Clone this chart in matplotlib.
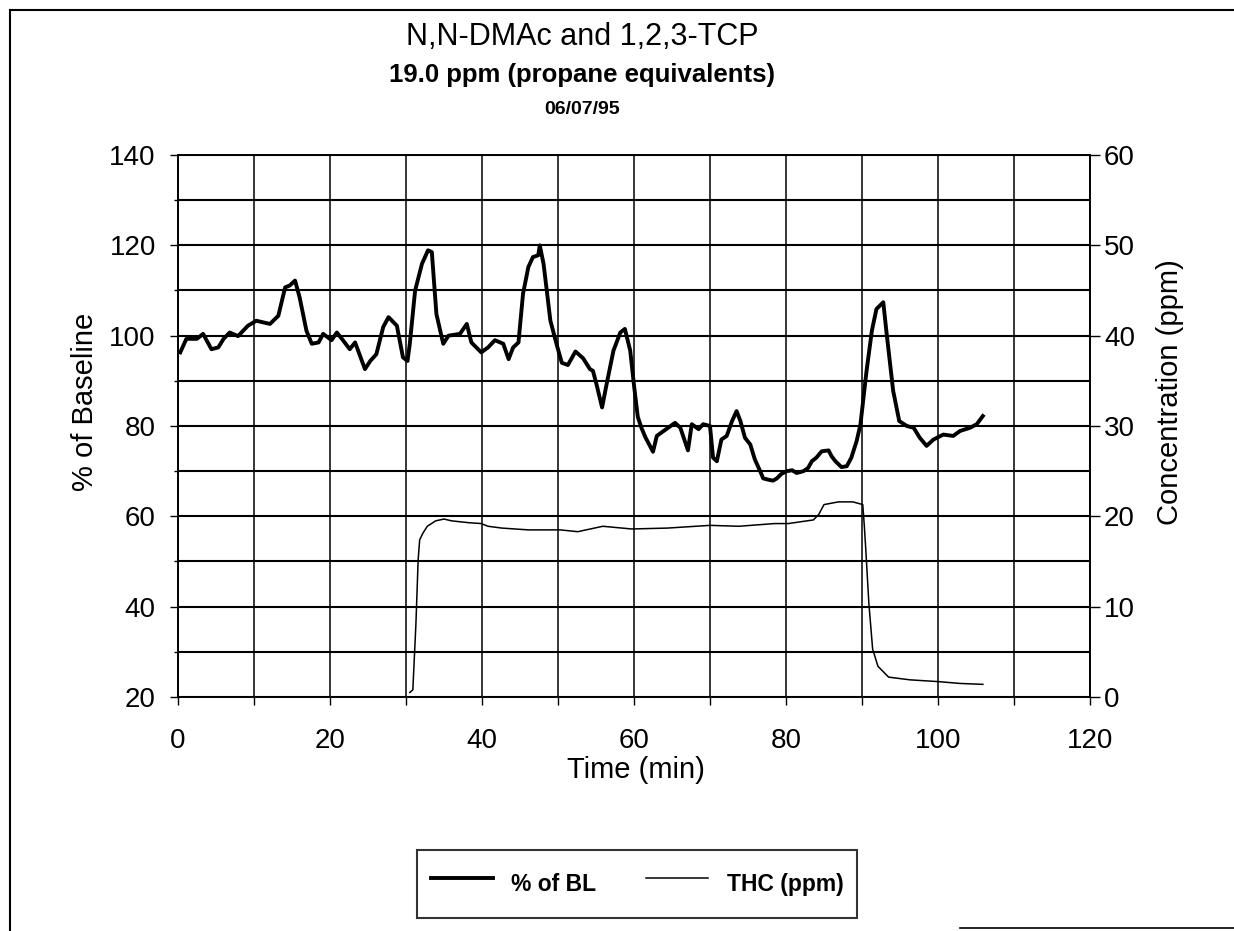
import matplotlib
matplotlib.use("Agg")
import matplotlib.pyplot as plt
from matplotlib.lines import Line2D

plt.rcParams['font.family'] = ['Liberation Sans', 'DejaVu Sans']

# % of baseline (left axis)
t_bl = [0.3, 1.1, 2.5, 3.3, 4.4, 5.3, 6.0, 6.8, 7.9, 9.2, 10.3, 12.1, 13.2, 14.1,
        14.7, 15.4, 16.0, 16.9, 17.6, 18.5, 19.1, 20.2, 20.9, 21.7, 22.6, 23.3,
        24.6, 25.3, 26.1, 27.0, 27.7, 28.8, 29.6, 30.2, 30.5, 31.2, 32.1, 32.9,
        33.4, 34.0, 34.9, 35.6, 37.1, 38.0, 38.6, 39.9, 40.8, 41.7, 42.8, 43.5,
        44.1, 44.8, 45.4, 46.1, 46.7, 47.4, 47.6, 48.1, 49.0, 49.8, 50.5, 51.3,
        52.3, 53.3, 54.2, 54.6, 55.1, 55.8, 56.4, 57.3, 58.2, 58.8, 59.5, 60.0,
        60.5, 61.0, 61.5, 62.5, 63.0, 63.9, 65.4, 66.1, 67.1, 67.6, 68.5, 69.1,
        70.0, 70.4, 70.9, 71.5, 72.2, 72.9, 73.5, 74.0, 74.6, 75.3, 75.9, 76.6,
        77.0, 77.7, 78.3, 78.8, 79.4, 80.1, 80.8, 81.4, 82.3, 82.9, 83.4, 84.0,
        84.7, 85.6, 86.0, 86.5, 87.3, 88.0, 88.6, 89.3, 89.8, 90.2, 90.6, 91.3,
        91.9, 92.8, 93.2, 94.1, 94.9, 95.9, 96.8, 97.6, 98.5, 99.4, 100.7, 102.0,
        102.9, 104.2, 105.1, 105.9]
v_bl = [96.3, 99.3, 99.3, 100.4, 97.0, 97.4, 99.3, 100.7, 99.9, 102.2, 103.3, 102.6,
        104.4, 110.7, 111.1, 112.2, 108.5, 101.1, 98.2, 98.5, 100.4, 99.0, 100.7,
        99.0, 97.0, 98.5, 92.6, 94.4, 95.9, 101.9, 104.1, 102.2, 95.2, 94.4, 98.2,
        110.0, 115.9, 118.9, 118.5, 104.8, 98.2, 100.0, 100.4, 102.6, 98.5, 96.3,
        97.4, 99.0, 98.2, 94.8, 97.4, 98.5, 109.3, 115.2, 117.4, 117.8, 120.0,
        115.9, 103.3, 98.2, 94.0, 93.5, 96.5, 95.0, 92.6, 92.2, 89.0, 84.1, 89.3,
        96.7, 100.7, 101.5, 96.7, 89.0, 82.0, 79.5, 77.5, 74.3, 77.8, 78.9, 80.7,
        79.6, 74.6, 80.4, 79.3, 80.4, 80.0, 73.0, 72.2, 77.0, 77.8, 81.1, 83.3,
        81.1, 77.4, 75.9, 72.6, 70.0, 68.4, 68.1, 67.9, 68.4, 69.4, 70.0, 70.2,
        69.6, 70.0, 70.7, 72.2, 73.0, 74.4, 74.6, 73.3, 72.2, 70.9, 71.1, 73.0,
        76.7, 80.4, 86.3, 92.2, 101.1, 105.9, 107.4, 101.1, 87.8, 81.1, 80.0,
        79.6, 77.4, 75.6, 77.0, 78.1, 77.8, 78.9, 79.6, 80.4, 82.2]

# THC concentration (right axis, ppm)
t_thc = [30.5, 30.9, 31.3, 31.6, 31.8, 32.2, 32.8, 33.9, 35.0, 36.0, 38.2, 39.9,
         40.8, 42.6, 46.1, 50.3, 52.6, 55.9, 59.7, 64.4, 70.0, 73.8, 78.5, 80.3,
         83.6, 84.3, 85.0, 86.9, 88.8, 90.1, 90.3, 90.5, 90.9, 91.4, 92.1, 93.5,
         96.3, 100.1, 102.9, 105.9]
c_thc = [0.5, 0.8, 8.0, 15.2, 17.4, 18.1, 18.9, 19.5, 19.7, 19.5, 19.3, 19.2,
         18.9, 18.7, 18.5, 18.5, 18.3, 18.9, 18.6, 18.7, 19.0, 18.9, 19.2, 19.2,
         19.6, 20.2, 21.3, 21.6, 21.6, 21.3, 19.0, 16.3, 10.4, 5.3, 3.4, 2.2,
         1.9, 1.7, 1.5, 1.4]

fig = plt.figure(figsize=(12.34, 9.31), dpi=100)
ax = fig.add_axes([178/1234, 1-697/931, 912/1234, 542/931])
ax2 = ax.twinx()

ax.set_xlim(0, 120)
ax.set_ylim(20, 140)
ax2.set_ylim(0, 60)

ax.set_xticks(range(0, 121, 20))
ax.set_xticks(range(10, 120, 20), minor=True)
ax.set_yticks(range(20, 141, 20))
ax.set_yticks(range(30, 140, 20), minor=True)
ax2.set_yticks(range(0, 61, 10))

ax.grid(True, which='both', axis='y', color='black', lw=1.5)
ax.grid(True, which='both', axis='x', color='black', lw=1.1)
ax.set_axisbelow(True)

for a in (ax, ax2):
    for s in a.spines.values():
        s.set_color('black')
        s.set_linewidth(1.2)

ax.tick_params(axis='x', which='both', direction='out', length=6, width=1,
               pad=16, labelsize=20)
ax.tick_params(axis='y', which='major', direction='out', length=6, width=1,
               pad=10, labelsize=20)
ax.tick_params(axis='y', which='minor', length=3, width=1)
ax2.tick_params(axis='y', direction='out', length=7, width=1, pad=3, labelsize=20)

l1, = ax.plot(t_bl, v_bl, color='black', lw=2.8, solid_joinstyle='round')
l2, = ax2.plot(t_thc, c_thc, color='black', lw=1.1)

fig.text(582/1234, 1-37/931, "N,N-DMAc and 1,2,3-TCP", ha='center', va='center',
         fontsize=22)
fig.text(582/1234, 1-75/931, "19.0 ppm (propane equivalents)", ha='center',
         va='center', fontsize=18.5, fontweight='bold')
fig.text(582/1234, 1-109/931, "06/07/95", ha='center', va='center',
         fontsize=14, fontweight='bold')

fig.text(85/1234, 1-402/931, "% of Baseline", rotation=90, ha='center',
         va='center', fontsize=21)
fig.text(1170/1234, 1-392/931, "Concentration (ppm)", rotation=90, ha='center',
         va='center', fontsize=21)
fig.text(636/1234, 1-770/931, "Time (min)", ha='center', va='center', fontsize=21)

leg = fig.legend([l1, l2], ["% of BL", "THC (ppm)"], loc='center',
                 bbox_to_anchor=(637/1234, 1-884/931), ncol=2, frameon=True,
                 fancybox=False, shadow=False, handlelength=2.7,
                 handleheight=2.3, columnspacing=2.2, borderpad=0.6,
                 prop={'size': 16.5, 'weight': 'bold'})
leg.get_frame().set_edgecolor('black')
leg.get_frame().set_linewidth(1.5)

# scanned page border
fig.add_artist(Line2D([10/1234, 10/1234], [0, 1-10/931], color='black', lw=1.5,
                      transform=fig.transFigure))
fig.add_artist(Line2D([10/1234, 1], [1-10/931, 1-10/931], color='black', lw=1.5,
                      transform=fig.transFigure))
fig.add_artist(Line2D([960/1234, 1], [1-928/931, 1-928/931], color='black', lw=1.2,
                      transform=fig.transFigure))

fig.savefig("out.png", dpi=100)
